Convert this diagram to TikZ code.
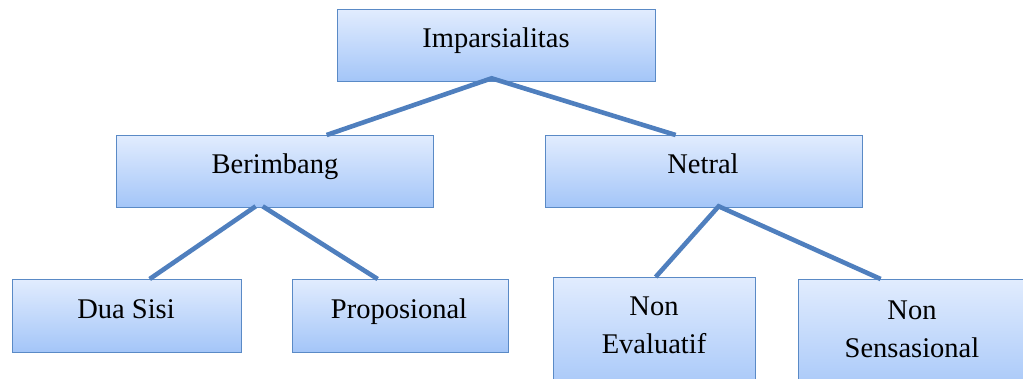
\documentclass[tikz,border=0pt]{standalone}
\usepackage{fontspec}
\setmainfont{Liberation Serif}
\definecolor{bordc}{HTML}{5A8AC6}
\definecolor{linec}{HTML}{4F7FBE}
\definecolor{topc}{HTML}{E1ECFE}
\definecolor{botc}{HTML}{A3C5F8}
\tikzset{
  box/.style={draw=bordc, line width=1.3pt, top color=topc, bottom color=botc,
    inner sep=0pt, anchor=north west},
  conn/.style={draw=linec, line width=4.6pt},
  lbl/.style={font=\fontsize{28.5}{38}\selectfont, inner sep=0pt, anchor=base, align=center}
}
\begin{document}
\begin{tikzpicture}[x=1pt,y=-1pt]
\useasboundingbox (0,0) rectangle (1023,378);
\clip (0,0) rectangle (1023,378);
% boxes
\node[box, minimum width=318pt, minimum height=72pt] (imp) at (337,9) {};
\node[box, minimum width=317pt, minimum height=72pt] (ber) at (116,135) {};
\node[box, minimum width=317pt, minimum height=72pt] (net) at (545,135) {};
\node[box, minimum width=229pt, minimum height=73pt] (dua) at (12,279) {};
\node[box, minimum width=216pt, minimum height=73pt] (pro) at (292,279) {};
\node[box, minimum width=202pt, minimum height=120pt] (nev) at (553,277) {};
\node[box, minimum width=232pt, minimum height=120pt] (nse) at (798,279) {};
% connectors
\draw[conn] ([xshift=51.5pt]ber.north) -- ([xshift=-5pt,yshift=4pt]imp.south) -- ([xshift=-28.5pt]net.north);
\draw[conn] ([xshift=22.5pt]dua.north) -- ([xshift=-19.5pt,yshift=2pt]ber.south);
\draw[conn] ([xshift=-12.5pt,yshift=2pt]ber.south) -- ([xshift=-23pt]pro.north);
\draw[conn] ([xshift=1pt]nev.north) -- ([xshift=14.5pt,yshift=2pt]net.south) -- ([xshift=-34pt]nse.north);
% labels
\node[lbl] (timp) at (496,47) {Imparsialitas};
\node[lbl] (tber) at (275,173) {Berimbang};
\node[lbl] (tnet) at (703,173) {Netral};
\node[lbl] (tdua) at (126,318) {Dua Sisi};
\node[lbl] (tpro) at (399,318) {Proposional};
\node[lbl] (tnev) at (654,353) {Non\\Evaluatif};
\node[lbl] (tnse) at (912,357) {Non\\Sensasional};
\end{tikzpicture}
\end{document}
